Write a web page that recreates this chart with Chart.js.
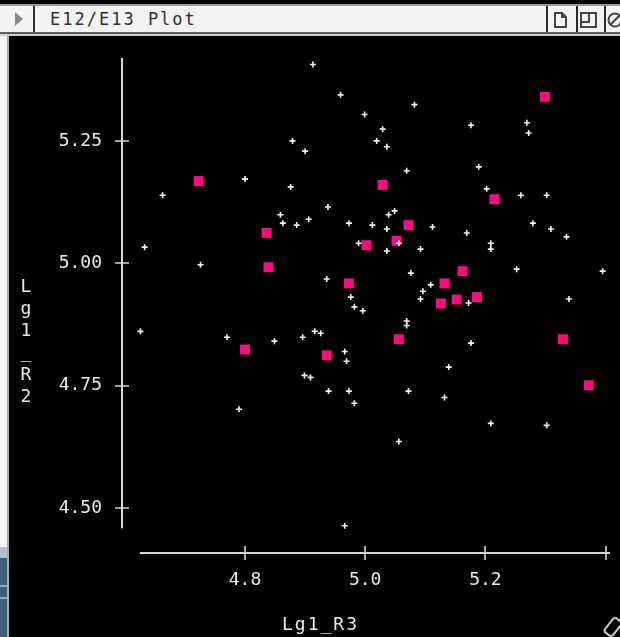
<!DOCTYPE html>
<html>
<head>
<meta charset="utf-8">
<title>E12/E13 Plot</title>
<script src="https://cdn.jsdelivr.net/npm/chart.js@4/dist/chart.umd.min.js"></script>
<style>
  html, body { margin: 0; padding: 0; background: #000; }
  #win { position: relative; width: 620px; height: 637px; overflow: hidden; background: #000; }
  #topline { position: absolute; left: 0; top: 4px; width: 620px; height: 2px; background: #9c9c9c; }
  #titlebar { position: absolute; left: 0; top: 6px; width: 620px; height: 26px; background: #f3f3f3; }
  #tbshade1 { position: absolute; left: 0; top: 32px; width: 620px; height: 2px; background: #5e5e5e; }
  #tbshade2 { position: absolute; left: 0; top: 34px; width: 620px; height: 2px; background: #cfcfcf; }
  .sep { position: absolute; top: 6px; width: 2px; height: 26px; background: #2a2a2a; }
  #tri { position: absolute; left: 15px; top: 12px; width: 0; height: 0;
         border-left: 8px solid #8a8a8a; border-top: 7px solid transparent; border-bottom: 7px solid transparent; }
  #ttl { position: absolute; left: 50px; top: 9px; font: 17px "DejaVu Sans Mono", monospace;
         letter-spacing: 2px; color: #303030; line-height: 20px; white-space: nowrap; }
  .ico { position: absolute; top: 12px; }
  #leftwhite { position: absolute; left: 0; top: 36px; width: 8px; height: 511px; background: #f6f6f6; }
  #leftedge { position: absolute; left: 7px; top: 36px; width: 2px; height: 601px; background: #a9a9a9; }
  #desk1 { position: absolute; left: 0; top: 547px; width: 7px; height: 11px; background: #b5bfcc; }
  #desk2 { position: absolute; left: 0; top: 558px; width: 7px; height: 79px; background: #3d5f77; }
  .deskln { position: absolute; left: 0; width: 7px; height: 2px; background: #95a8b8; }
  #plot { position: absolute; left: 10px; top: 37px; width: 610px; height: 600px; }
  #grow { position: absolute; left: 603px; top: 621px; width: 16px; height: 8px;
          border: 2px solid #cfcfcf; border-radius: 4px; transform: rotate(-52deg); }
</style>
</head>
<body>
<div id="win">
  <div id="topline"></div>
  <div id="titlebar"></div>
  <div id="tbshade1"></div>
  <div id="tbshade2"></div>
  <div id="tri"></div>
  <div class="sep" style="left:33px"></div>
  <div id="ttl">E12/E13 Plot</div>
  <div class="sep" style="left:546px"></div>
  <div class="sep" style="left:576px"></div>
  <div class="sep" style="left:604px"></div>
  <svg class="ico" style="left:553px" width="16" height="16" viewBox="0 0 16 16">
    <path d="M2 1 H9 L13 5 V15 H2 Z M9 1 V5 H13" fill="none" stroke="#444" stroke-width="2"/>
  </svg>
  <svg class="ico" style="left:580px" width="18" height="16" viewBox="0 0 18 16">
    <rect x="1" y="1" width="15" height="14" fill="none" stroke="#444" stroke-width="2"/>
    <path d="M1 10 H9 V1" fill="none" stroke="#444" stroke-width="2"/>
  </svg>
  <svg class="ico" style="left:607px" width="16" height="16" viewBox="0 0 16 16">
    <circle cx="8" cy="8" r="6.5" fill="none" stroke="#444" stroke-width="2"/>
    <path d="M3 13 L13 3" stroke="#444" stroke-width="2"/>
  </svg>
  <div id="leftwhite"></div>
  <div id="leftedge"></div>
  <div id="desk1"></div>
  <div id="desk2"></div>
  <div class="deskln" style="top:585px"></div>
  <div class="deskln" style="top:597px"></div>
  <canvas id="plot" width="610" height="600"></canvas>
  <div id="grow"></div>
</div>
<script>
// Lg1_R3 (horizontal) and Lg1_R2 (vertical) for the ordinary rows
const plusR3 = [4.913, 4.959, 4.999, 4.879, 4.900, 4.800, 4.663, 4.876, 4.938, 4.859,
                4.863, 4.886, 4.906, 4.973, 4.989, 4.633, 4.726, 4.936, 4.976, 5.082,
                5.029, 5.019, 5.036, 5.176, 5.269, 5.272, 5.069, 5.189, 5.202, 5.259,
                5.302, 5.049, 5.039, 5.012, 5.036, 5.112, 5.169, 5.279, 5.309, 5.335,
                5.056, 5.036, 5.092, 5.209, 5.209, 5.076, 5.252, 5.395, 5.109, 5.096,
                5.092, 5.172, 4.996, 5.069, 5.069, 5.339, 5.176, 5.139, 5.072, 5.132,
                5.209, 5.302, 5.056, 4.982, 4.626, 4.770, 4.849, 4.896, 4.916, 4.926,
                4.966, 4.969, 4.899, 4.909, 4.939, 4.973, 4.982, 4.790, 4.966];
const plusR2 = [5.406, 5.344, 5.304, 5.250, 5.229, 5.172, 5.139, 5.156, 5.115, 5.099,
                5.082, 5.078, 5.090, 5.082, 5.041, 5.033, 4.997, 4.968, 4.931, 5.324,
                5.274, 5.250, 5.238, 5.282, 5.287, 5.266, 5.189, 5.197, 5.152, 5.139,
                5.139, 5.107, 5.099, 5.078, 5.070, 5.074, 5.062, 5.082, 5.070, 5.054,
                5.041, 5.025, 5.029, 5.041, 5.029, 4.980, 4.988, 4.984, 4.956, 4.943,
                4.927, 4.919, 4.903, 4.882, 4.873, 4.927, 4.837, 4.788, 4.739, 4.726,
                4.673, 4.669, 4.636, 4.911, 4.861, 4.849, 4.841, 4.849, 4.861, 4.857,
                4.820, 4.800, 4.771, 4.767, 4.739, 4.739, 4.714, 4.702, 4.464];

// Lg1_R3 / Lg1_R2 for the marked rows
const markedR3 = [4.723, 4.836, 4.839, 4.973, 5.002, 5.299, 5.029, 5.215, 5.072, 5.052,
                  5.162, 5.132, 5.126, 5.152, 5.186, 5.056, 5.329, 5.372, 4.800, 4.936];
const markedR2 = [5.168, 5.062, 4.992, 4.959, 5.037, 5.340, 5.160, 5.131, 5.078, 5.046,
                  4.984, 4.959, 4.918, 4.926, 4.931, 4.845, 4.845, 4.751, 4.824, 4.812];

// axis ranges, axis line extents and tick values
const xRange = [4.5937, 5.4073];
const yRange = [4.4083, 5.4193];
const xAxisLine = [4.625, 5.4073];
const yAxisLine = [4.459, 5.4193];
const xTickMarks = [4.8, 5.0, 5.2, 5.4];
const xTickLabels = [4.8, 5.0, 5.2];
const yTickMarks = [4.5, 4.75, 5.0, 5.25];
const xTitle = 'Lg1_R3';
const yTitle = 'Lg1_R2';

const AXIS = '#d6d6d6';
const TEXT = '#e8e8e8';
const MONO = '"DejaVu Sans Mono", monospace';

const plusPts = plusR3.map((v, i) => ({ x: v, y: plusR2[i] }));
const markedPts = markedR3.map((v, i) => ({ x: v, y: markedR2[i] }));

// scales keep a fixed box, without extra room for edge labels
function fixBox(size) {
  return s => {
    if (s.isHorizontal()) s.height = size; else s.width = size;
    s.paddingTop = s.paddingBottom = s.paddingLeft = s.paddingRight = 0;
  };
}

const axesPlugin = {
  id: 'plotAxes',
  beforeDatasetsDraw(chart) {
    const { ctx, scales: { x, y } } = chart;
    const ax = x.getPixelForValue(xRange[0]) + 1;   // vertical axis position
    const ay = y.getPixelForValue(yRange[0]);       // horizontal axis position
    ctx.save();
    ctx.strokeStyle = AXIS;
    ctx.lineWidth = 2;
    ctx.beginPath();
    ctx.moveTo(ax, y.getPixelForValue(yAxisLine[1]));
    ctx.lineTo(ax, y.getPixelForValue(yAxisLine[0]));
    ctx.moveTo(x.getPixelForValue(xAxisLine[0]), ay);
    ctx.lineTo(x.getPixelForValue(xAxisLine[1]), ay);
    ctx.stroke();
    ctx.lineWidth = 1.6;
    ctx.beginPath();
    yTickMarks.forEach(v => {
      const py = Math.round(y.getPixelForValue(v));
      ctx.moveTo(ax - 7, py); ctx.lineTo(ax + 7, py);
    });
    xTickMarks.forEach(v => {
      const px = Math.round(x.getPixelForValue(v));
      ctx.moveTo(px, ay - 7); ctx.lineTo(px, ay + 7);
    });
    ctx.stroke();

    // axis titles
    ctx.fillStyle = TEXT;
    ctx.font = '18px ' + MONO;
    ctx.letterSpacing = '2px';
    ctx.textAlign = 'left';
    ctx.textBaseline = 'alphabetic';
    ctx.fillText(xTitle, 272, 593);
    ctx.letterSpacing = '0px';
    ctx.textAlign = 'center';
    [...yTitle].forEach((ch, i) => ctx.fillText(ch, 16, 254.5 + i * 22));
    ctx.restore();
  }
};

new Chart(document.getElementById('plot'), {
  type: 'scatter',
  data: {
    datasets: [
      {
        label: 'rows',
        data: plusPts,
        pointStyle: 'cross',
        pointRadius: 3,
        pointBorderWidth: 1.6,
        borderColor: '#f4f4f4',
        backgroundColor: '#f4f4f4'
      },
      {
        label: 'marked',
        data: markedPts,
        pointStyle: 'rect',
        pointRadius: 7,
        pointBorderWidth: 0,
        borderColor: '#ff0a80',
        backgroundColor: '#ff0a80'
      }
    ]
  },
  options: {
    responsive: false,
    animation: false,
    events: [],
    layout: { padding: { left: 0, right: 10, top: 21, bottom: 0 } },
    plugins: { legend: { display: false }, tooltip: { enabled: false } },
    scales: {
      x: {
        type: 'linear',
        min: xRange[0], max: xRange[1],
        grid: { display: false, drawTicks: false },
        border: { display: false },
        afterFit: fixBox(84),
        afterBuildTicks(s) { s.ticks = xTickLabels.map(v => ({ value: v })); },
        ticks: {
          padding: 17,
          color: TEXT,
          font: { family: MONO, size: 18 },
          maxRotation: 0,
          callback: v => v.toFixed(1)
        }
      },
      y: {
        type: 'linear',
        min: yRange[0], max: yRange[1],
        grid: { display: false, drawTicks: false },
        border: { display: false },
        afterFit: fixBox(111),
        afterBuildTicks(s) { s.ticks = yTickMarks.map(v => ({ value: v })); },
        ticks: {
          padding: 19,
          color: TEXT,
          font: { family: MONO, size: 18 },
          callback: v => v.toFixed(2)
        }
      }
    }
  },
  plugins: [axesPlugin]
});
</script>
</body>
</html>
